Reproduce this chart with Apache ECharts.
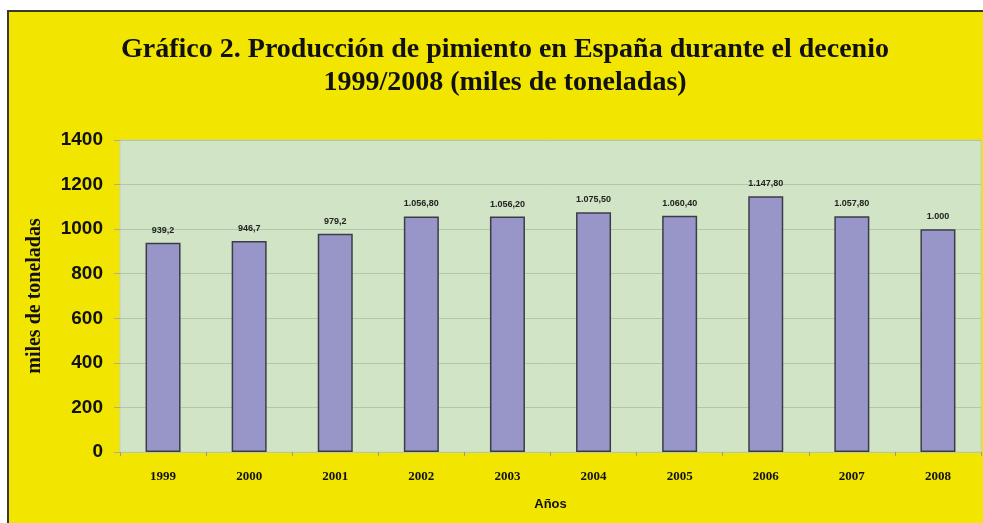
<!DOCTYPE html>
<html>
<head>
<meta charset="utf-8">
<script src="https://cdn.jsdelivr.net/npm/echarts@6/dist/echarts.min.js"></script>
<style>
html, body { margin: 0; padding: 0; background: #fff; }
#chart { width: 983px; height: 523px; }
</style>
</head>
<body>
<div id="chart"></div>
<script>
// datos del gráfico
var years = ['1999', '2000', '2001', '2002', '2003', '2004', '2005', '2006', '2007', '2008'];
var produccion = [939.2, 946.7, 979.2, 1056.8, 1056.2, 1075.5, 1060.4, 1147.8, 1057.8, 1000];
var etiquetas = ['939,2', '946,7', '979,2', '1.056,80', '1.056,20', '1.075,50', '1.060,40', '1.147,80', '1.057,80', '1.000'];

var chart = echarts.init(document.getElementById('chart'));

var option = {
    backgroundColor: '#fff',
    animation: false,
    graphic: [{
        type: 'rect',
        z: -10,
        shape: { x: 8, y: 11, width: 1000, height: 540 },
        style: { fill: '#F2E500', stroke: '#3a3a2a', lineWidth: 2 }
    }],
    title: {
        text: 'Gráfico 2. Producción de pimiento en España durante el decenio\n1999/2008 (miles de toneladas)',
        left: 500,
        textAlign: 'center',
        top: 28,
        textStyle: {
            fontFamily: 'Liberation Serif',
            fontWeight: 'bold',
            fontSize: 28,
            lineHeight: 33,
            color: '#111'
        }
    },
    grid: {
        left: 120,
        right: 2,
        top: 140,
        bottom: 71,
        show: true,
        backgroundColor: '#D1E4C5',
        borderColor: '#c2d4b6',
        borderWidth: 1
    },
    xAxis: {
        type: 'category',
        data: years,
        name: 'Años',
        nameLocation: 'middle',
        nameGap: 46,
        nameTextStyle: {
            fontFamily: 'Liberation Sans',
            fontWeight: 'bold',
            fontSize: 13,
            color: '#111'
        },
        axisLine: { lineStyle: { color: '#b8c8a8', width: 1 } },
        axisTick: { show: true, length: 4, lineStyle: { color: '#999' } },
        axisLabel: {
            margin: 18,
            fontFamily: 'Liberation Serif',
            fontWeight: 'bold',
            fontSize: 13,
            color: '#111'
        }
    },
    yAxis: {
        type: 'value',
        min: 0,
        max: 1400,
        interval: 200,
        name: 'miles de toneladas',
        nameLocation: 'middle',
        nameGap: 75,
        nameTextStyle: {
            fontFamily: 'Liberation Serif',
            fontWeight: 'bold',
            fontSize: 20,
            color: '#111'
        },
        axisLine: { show: false },
        axisTick: { show: true, length: 6, lineStyle: { color: '#aaa' } },
        axisLabel: {
            margin: 17,
            fontFamily: 'Liberation Sans',
            fontWeight: 'bold',
            fontSize: 19,
            color: '#111',
            formatter: function (v) { return String(v); }
        },
        splitLine: { lineStyle: { color: '#b5c5a8', width: 1 } }
    },
    series: [{
        type: 'bar',
        data: produccion,
        barWidth: 35,
        itemStyle: {
            color: '#9896C8',
            borderColor: '#3c3c48',
            borderWidth: 1.5
        },
        label: {
            show: true,
            position: 'top',
            distance: 8,
            fontFamily: 'Liberation Sans',
            fontWeight: 'bold',
            fontSize: 9,
            color: '#222',
            formatter: function (p) { return etiquetas[p.dataIndex]; }
        }
    }]
};
chart.setOption(option);
</script>
</body>
</html>
